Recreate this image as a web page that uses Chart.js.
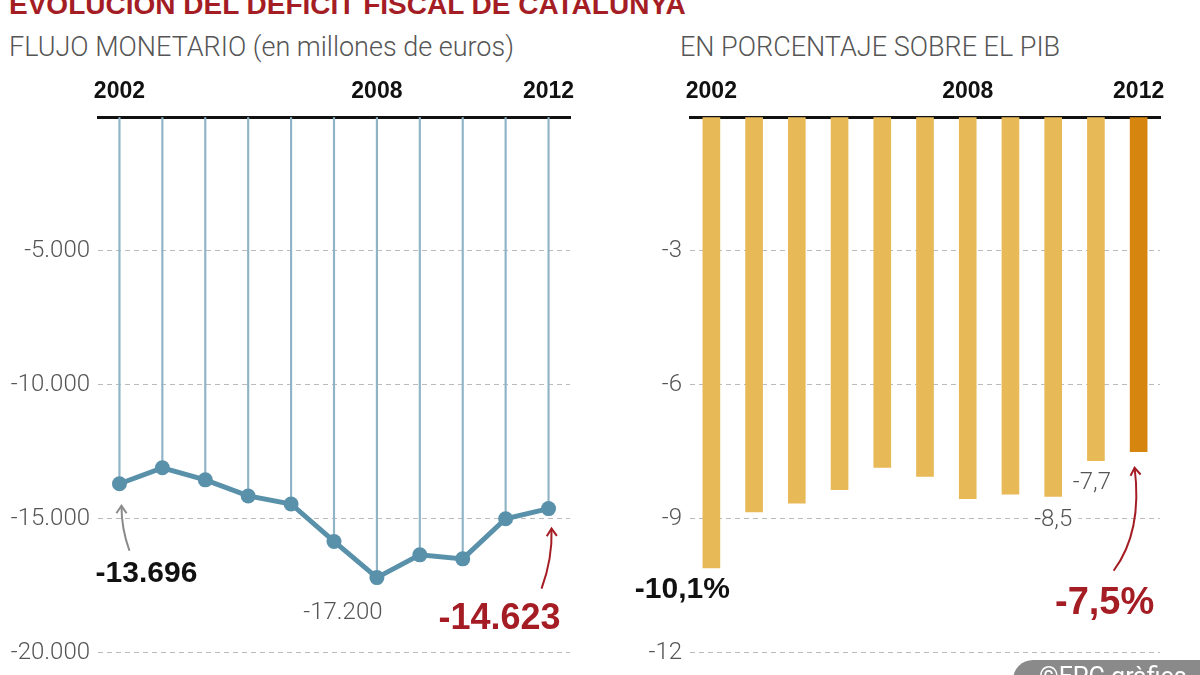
<!DOCTYPE html>
<html>
<head>
<meta charset="utf-8">
<script src="https://cdn.jsdelivr.net/npm/chart.js@4"></script>
<style>
  body { margin: 0; width: 1200px; height: 675px; overflow: hidden; background: #fff; position: relative; font-family: "Liberation Sans", Arial, sans-serif; }
  .title { position: absolute; left: 9px; top: -9px; font-size: 28px; line-height: 28px; font-weight: bold; color: #a51d24; white-space: nowrap; }
  .sub { position: absolute; top: 32px; font-family: Roboto, sans-serif; font-weight: 300; font-size: 27px; line-height: 30px; color: #555; white-space: nowrap; }
  canvas { position: absolute; top: 80px; }
  .credit { position: absolute; left: 1013px; top: 660px; width: 220px; height: 40px; border-radius: 20px; background: #8a8a8a; color: #fff; font-family: Roboto, sans-serif; font-size: 25px; padding-left: 26px; line-height: 34px; box-sizing: border-box; }
</style>
</head>
<body>
<div class="title">EVOLUCIÓN DEL DÉFICIT FISCAL DE CATALUNYA</div>
<div class="sub" style="left:9px">FLUJO MONETARIO (en millones de euros)</div>
<div class="sub" style="left:680px">EN PORCENTAJE SOBRE EL PIB</div>
<canvas id="flujoChart" width="590" height="595" style="left:0"></canvas>
<canvas id="pibChart" width="600" height="595" style="left:600px"></canvas>
<div class="credit">©EPC gràfics</div>
<script>
const years = ['2002', '2003', '2004', '2005', '2006', '2007', '2008', '2009', '2010', '2011', '2012'];
const shownYears = ['2002', '2008', '2012'];
const flujo = [-13696, -13100, -13550, -14150, -14450, -15850, -17200, -16350, -16500, -15000, -14623];
const pib = [-10.1, -8.85, -8.65, -8.35, -7.85, -8.05, -8.55, -8.45, -8.5, -7.7, -7.5];
const flujoTicks = [0, -5000, -10000, -15000, -20000];
const pibTicks = [0, -3, -6, -9, -12];

const LIGHT = 'Roboto';
const BOLD = 'Liberation Sans';

function miles(v) {
    return String(v).replace(/\B(?=(\d{3})+(?!\d))/g, '.');
}

function drawText(ctx, txt, x, y, font, color, clear) {
    ctx.save();
    ctx.font = font;
    ctx.textAlign = 'center';
    ctx.textBaseline = 'middle';
    if (clear) {
        const w = ctx.measureText(txt).width;
        ctx.fillStyle = '#fff';
        ctx.fillRect(x - w / 2 - 6, y - 10, w + 12, 20);
    }
    ctx.fillStyle = color;
    ctx.fillText(txt, x, y);
    ctx.restore();
}

function drawArrow(ctx, x1, y1, cx, cy, x2, y2, color) {
    ctx.save();
    ctx.strokeStyle = color;
    ctx.lineWidth = 2;
    ctx.beginPath();
    ctx.moveTo(x1, y1);
    ctx.quadraticCurveTo(cx, cy, x2, y2);
    ctx.stroke();
    const a = Math.atan2(y2 - cy, x2 - cx);
    ctx.beginPath();
    ctx.moveTo(x2 - 9 * Math.cos(a - 0.6), y2 - 9 * Math.sin(a - 0.6));
    ctx.lineTo(x2, y2);
    ctx.lineTo(x2 - 9 * Math.cos(a + 0.6), y2 - 9 * Math.sin(a + 0.6));
    ctx.stroke();
    ctx.restore();
}

const commonX = {
    position: 'top',
    afterFit: s => { s.height = 37; },
    grid: { color: 'transparent', drawTicks: false },
    border: { display: true, color: '#111', width: 3 },
    ticks: {
        autoSkip: false, maxRotation: 0, padding: 12, color: '#111',
        font: { family: BOLD, size: 23, weight: 'bold' },
        callback: function (v) {
            const l = this.getLabelForValue(v);
            return shownYears.includes(l) ? l : '';
        }
    }
};

function yAxis(ticks, width, fmt) {
    return {
        min: ticks[ticks.length - 1], max: ticks[0],
        afterFit: s => { s.width = width; },
        afterBuildTicks: s => { s.ticks = ticks.map(v => ({ value: v })); },
        grid: { drawTicks: false, color: c => c.tick && c.tick.value === 0 ? 'transparent' : '#bbb' },
        border: { display: false, dash: [5, 4] },
        ticks: {
            padding: 8, color: '#555',
            font: { family: LIGHT, size: 24, weight: '300' },
            callback: v => v === 0 ? '' : fmt(v)
        }
    };
}

const flujoNotes = {
    id: 'flujoNotes',
    afterDatasetsDraw(chart) {
        const ctx = chart.ctx, x = chart.scales.x, y = chart.scales.y;
        const px = i => x.getPixelForValue(i), py = i => y.getPixelForValue(flujo[i]);
        const last = flujo.length - 1;
        drawText(ctx, miles(flujo[0]), px(0) + 27, py(0) + 90, `bold 30px ${BOLD}`, '#111');
        drawArrow(ctx, px(0) + 10, py(0) + 67, px(0) + 2, py(0) + 45, px(0) + 2, py(0) + 22, '#8a8a8a');
        drawText(ctx, miles(flujo[6]), px(6) - 34, py(6) + 35, `300 24px ${LIGHT}`, '#555');
        drawText(ctx, miles(flujo[last]), px(last) - 49, py(last) + 110, `bold 36px ${BOLD}`, '#a51d24');
        drawArrow(ctx, px(last) - 7, py(last) + 80, px(last) + 4, py(last) + 50, px(last) + 3, py(last) + 20, '#a51d24');
    }
};

const pibNotes = {
    id: 'pibNotes',
    afterDatasetsDraw(chart) {
        const ctx = chart.ctx, x = chart.scales.x, y = chart.scales.y;
        const px = i => x.getPixelForValue(i), py = i => y.getPixelForValue(pib[i]);
        const last = pib.length - 1;
        const fmt = v => String(v).replace('.', ',');
        drawText(ctx, fmt(pib[0]) + '%', px(0) - 29, py(0) + 22, `bold 30px ${BOLD}`, '#111');
        drawText(ctx, fmt(pib[8]), px(8), py(8) + 24, `300 24px ${LIGHT}`, '#555', true);
        drawText(ctx, fmt(pib[9]), px(9) - 4, py(9) + 22, `300 24px ${LIGHT}`, '#555');
        drawText(ctx, fmt(pib[last]) + '%', px(last) - 34, py(last) + 152, `bold 38px ${BOLD}`, '#a51d24');
        drawArrow(ctx, px(last) - 25, py(last) + 119, px(last) + 4, py(last) + 80, px(last) - 4, py(last) + 16, '#a51d24');
    }
};

new Chart(document.getElementById('flujoChart'), {
    data: {
        labels: years,
        datasets: [{
            type: 'line',
            data: flujo,
            borderColor: '#5a91aa',
            backgroundColor: '#5a91aa',
            borderWidth: 5,
            pointRadius: 7.5,
            pointBorderWidth: 0,
            order: 1
        }, {
            type: 'bar',
            data: flujo,
            backgroundColor: '#8fb4c6',
            barThickness: 1.5,
            order: 2
        }]
    },
    options: {
        responsive: false,
        animation: false,
        layout: { padding: { right: 20, bottom: 22 } },
        plugins: { legend: { display: false }, tooltip: { enabled: false } },
        scales: {
            x: commonX,
            y: yAxis(flujoTicks, 98, v => '-' + miles(Math.abs(v)))
        }
    },
    plugins: [flujoNotes]
});

new Chart(document.getElementById('pibChart'), {
    type: 'bar',
    data: {
        labels: years,
        datasets: [{
            data: pib,
            backgroundColor: pib.map((v, i) => i === pib.length - 1 ? '#d6850f' : '#e8b957'),
            barThickness: 17
        }]
    },
    options: {
        responsive: false,
        animation: false,
        layout: { padding: { right: 40, bottom: 22 } },
        plugins: { legend: { display: false }, tooltip: { enabled: false } },
        scales: {
            x: commonX,
            y: yAxis(pibTicks, 90, v => String(v))
        }
    },
    plugins: [pibNotes]
});
</script>
</body>
</html>
